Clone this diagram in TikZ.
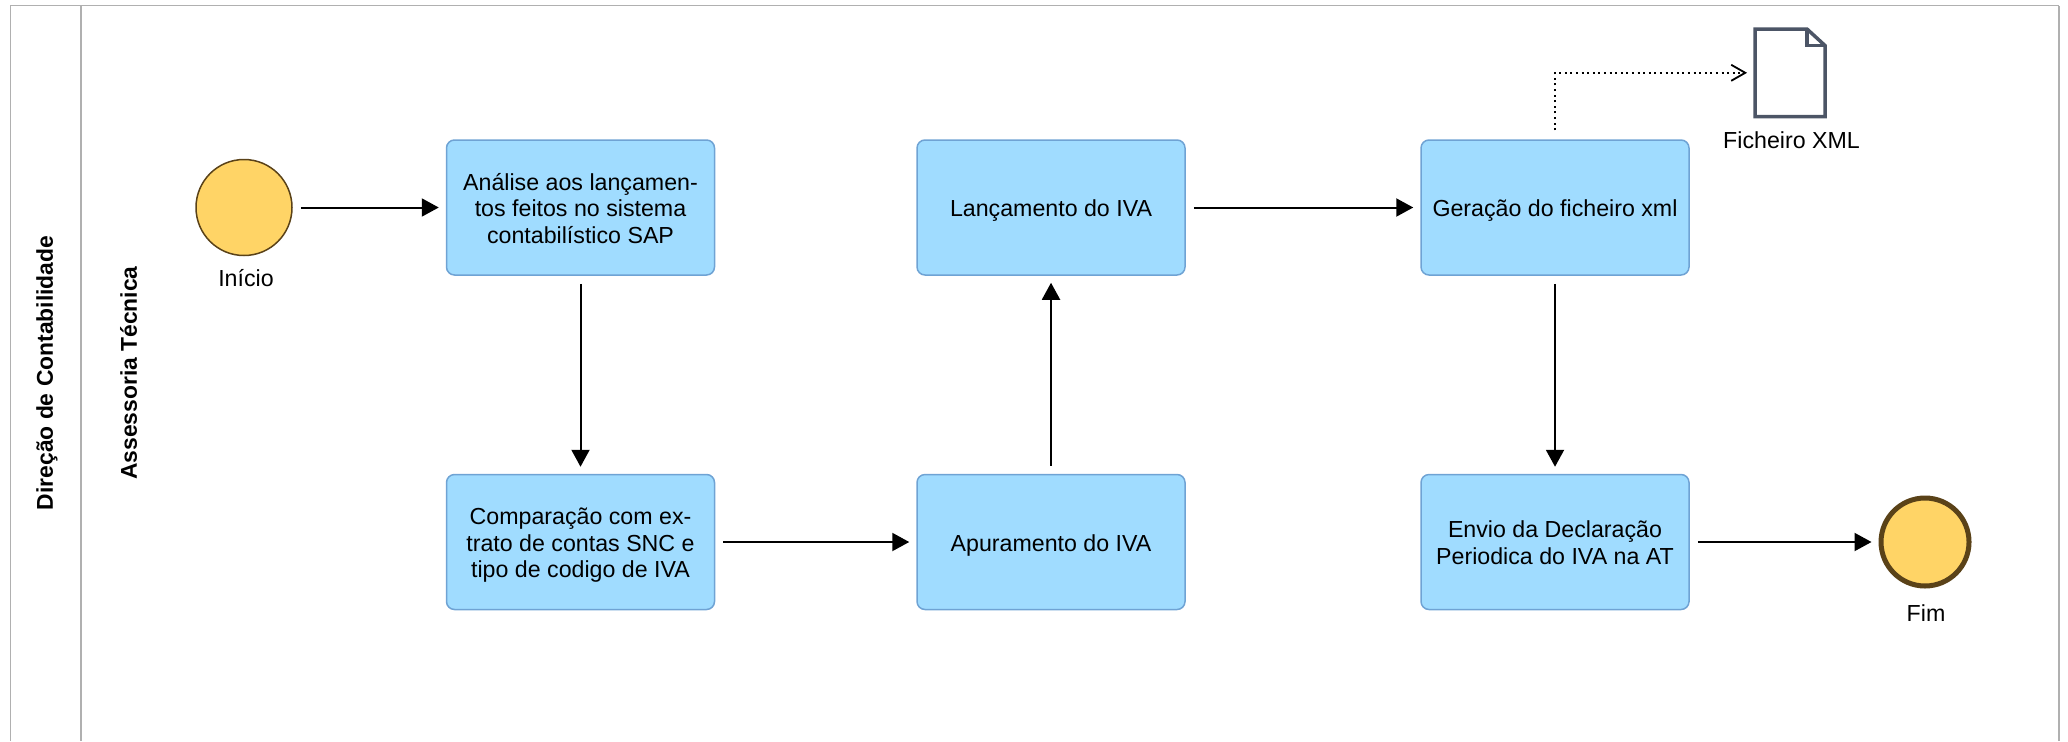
\documentclass[tikz,border=0pt]{standalone}
\usepackage{fontspec}
\setmainfont{Liberation Sans}
\usetikzlibrary{arrows.meta}
\definecolor{boxfill}{HTML}{A0DCFF}
\definecolor{boxline}{HTML}{6FA3D4}
\definecolor{eventfill}{HTML}{FFD466}
\definecolor{eventline}{HTML}{5A4218}
\definecolor{docline}{HTML}{4C5566}
\definecolor{laneline}{HTML}{B0B0B0}
\tikzset{
	task/.style={draw=boxline,fill=boxfill,line width=0.015cm,rounded corners=0.08cm,minimum width=2.68cm,minimum height=1.35cm,inner sep=0,align=center,font=\fontsize{6.6pt}{7.5pt}\selectfont,text height=5.7pt,text depth=0.5pt},
	tasktwo/.style={task,text height=13.2pt},
	taskthree/.style={task,text height=20.7pt},
	txt/.style={inner sep=0,align=center,font=\fontsize{6.6pt}{7.5pt}\selectfont},
	lanetxt/.style={inner sep=0,rotate=90,font=\fontsize{6.5pt}{7.5pt}\selectfont\bfseries},
	flow/.style={arrows=-{Triangle[length=0.17cm,width=0.18cm]},line width=0.02cm,shorten <=0.08cm,shorten >=0.07cm},
	assoc/.style={arrows=-{Straight Barb[length=0.14cm,width=0.16cm]},line width=0.018cm,dash pattern=on 0.02cm off 0.036cm,shorten <=0.09cm,shorten >=0.08cm}
}
\begin{document}
\begin{tikzpicture}
	\useasboundingbox (0,0) rectangle (20.68,7.41);
	\draw[laneline,line width=0.013cm] (0.105,0)--(0.105,7.355)--(20.59,7.355);
	\draw[laneline,line width=0.02cm] (0.81,0)--(0.81,7.355);
	\draw[laneline,line width=0.025cm] (20.59,0)--(20.59,7.355);
	\node (direcao) at (0.47,3.68) [lanetxt] {Direção de Contabilidade};
	\node (assessoria) at (1.285,3.68) [lanetxt] {Assessoria Técnica};
	\node (inicio) at (2.44,5.335) [circle,draw=eventline,fill=eventfill,line width=0.015cm,minimum size=0.96cm,inner sep=0] {};
	\node (fim) at (19.25,1.99) [circle,draw=eventline,fill=eventfill,line width=0.05cm,minimum size=0.88cm,inner sep=0] {};
	\node (inicioTxt) at (2.46,4.63) [txt] {Início};
	\node (fimTxt) at (19.26,1.28) [txt] {Fim};
	\node (analise) at (5.805,5.335) [taskthree] {Análise aos lançamen-\\tos feitos no sistema\\contabilístico SAP};
	\node (lancamento) at (10.51,5.335) [task] {Lançamento do IVA};
	\node (geracao) at (15.55,5.335) [task] {Geração do ficheiro xml};
	\node (comparacao) at (5.805,1.99) [taskthree] {Comparação com ex-\\trato de contas SNC e\\tipo de codigo de IVA};
	\node (apuramento) at (10.51,1.99) [task] {Apuramento do IVA};
	\node (envio) at (15.55,1.99) [tasktwo] {Envio da Declaração\\Periodica do IVA na AT};
	\node (xml) at (17.90,6.682) [minimum width=0.70cm,minimum height=0.875cm,inner sep=0,outer sep=0] {};
	\node (xmlTxt) at (17.915,6.01) [txt] {Ficheiro XML};
	\draw[docline,line width=0.035cm,line join=miter] (xml.north west)--++(0.52,0)--++(0.18,-0.165)--(xml.south east)--(xml.south west)--cycle;
	\draw[docline,line width=0.035cm] (18.07,7.12)--(18.07,6.955)--(18.25,6.955);
	\draw[flow] (inicio)--(analise);
	\draw[flow] (analise)--(comparacao);
	\draw[flow] (comparacao)--(apuramento);
	\draw[flow] (apuramento)--(lancamento);
	\draw[flow] (lancamento)--(geracao);
	\draw[flow] (geracao)--(envio);
	\draw[flow] (envio)--(fim);
	\draw[assoc] (geracao.north)|-(xml.west);
\end{tikzpicture}
\end{document}
